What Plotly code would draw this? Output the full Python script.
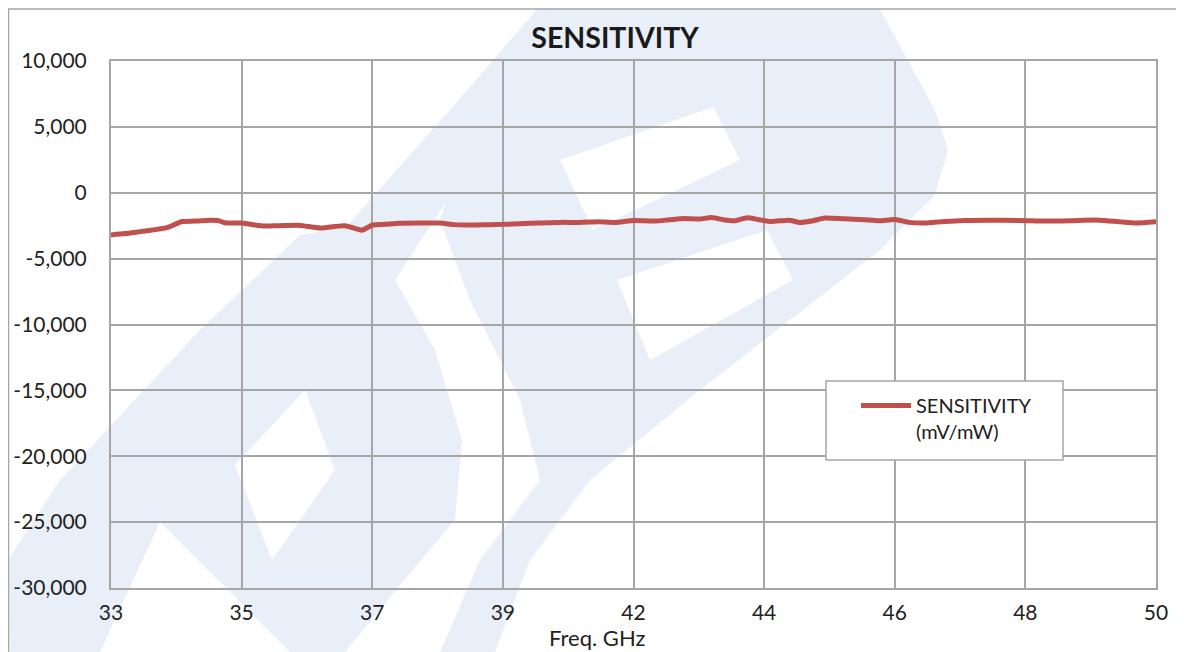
import plotly.graph_objects as go

# ---- data ----
tick_labels = ["33", "35", "37", "39", "42", "44", "46", "48", "50"]
tick_pos = [0, 1, 2, 3, 4, 5, 6, 7, 8]

freq_pos = [0.000, 0.107, 0.222, 0.337, 0.428, 0.489, 0.543, 0.642, 0.757, 0.818,
            0.872, 1.002, 1.101, 1.178, 1.293, 1.446, 1.537, 1.614, 1.713, 1.790,
            1.866, 1.920, 2.004, 2.096, 2.210, 2.363, 2.516, 2.631, 2.746, 2.899,
            3.013, 3.128, 3.281, 3.434, 3.587, 3.740, 3.855, 4.008, 4.161, 4.275,
            4.390, 4.505, 4.597, 4.688, 4.772, 4.872, 4.964, 5.055, 5.193, 5.270,
            5.384, 5.461, 5.614, 5.767, 5.881, 6.004, 6.111, 6.226, 6.379, 6.532,
            6.723, 6.952, 7.182, 7.411, 7.564, 7.717, 7.847, 8.000]
sensitivity = [-3200, -3100, -2950, -2800, -2650, -2400, -2180, -2150, -2080, -2100,
               -2280, -2300, -2450, -2530, -2500, -2480, -2600, -2680, -2560, -2510,
               -2700, -2840, -2450, -2400, -2320, -2300, -2300, -2420, -2450, -2420,
               -2400, -2350, -2300, -2250, -2250, -2200, -2250, -2100, -2150, -2050,
               -1950, -2000, -1880, -2050, -2130, -1900, -2050, -2180, -2080, -2250,
               -2100, -1920, -1980, -2050, -2120, -2030, -2250, -2300, -2180, -2100,
               -2080, -2100, -2150, -2100, -2080, -2200, -2300, -2200]

y_tick_vals = [10000, 5000, 0, -5000, -10000, -15000, -20000, -25000, -30000]
y_tick_text = ["10,000", "5,000", "0", "-5,000", "-10,000", "-15,000", "-20,000", "-25,000", "-30,000"]

series_name = "SENSITIVITY<br>(mV/mW)"
x_title = "Freq. GHz"
chart_title = "SENSITIVITY"

# ---- layout geometry (reference pixels; page body has an 8px margin) ----
OFF = 8
W, H = 1184 - OFF, 652 - OFF
P_L, P_T, P_R, P_B = 111, 61, 1156, 588          # plot area in reference pixels
ML, MT = P_L - OFF, P_T - OFF
MR, MB = W - (P_R - OFF), H - (P_B - OFF)
PW, PH = P_R - P_L, P_B - P_T

LINE_COLOR = "#c0504d"


def px(x, y):
    """reference pixel -> paper coords"""
    return (x - P_L) / PW, (P_B - y) / PH


def poly(points):
    pts = [px(x, y) for x, y in points]
    return "M " + " L ".join(f"{a:.4f},{b:.4f}" for a, b in pts) + " Z"


WM = "#e8eff8"
watermark = [
    # left "D"
    ([(10, 652), (8, 560), (60, 480), (200, 330), (300, 235), (345, 228), (395, 280),
      (435, 350), (462, 440), (455, 520), (400, 585), (345, 652)], WM),
    ([(100, 652), (160, 522), (290, 652)], "white"),
    ([(235, 465), (305, 390), (335, 470), (272, 560)], "white"),
    # upper-left diagonal stroke
    ([(345, 228), (450, 110), (545, 0), (600, 0), (480, 150), (395, 280)], WM),
    # right shape
    ([(480, 100), (560, 0), (875, 0), (935, 110), (948, 150), (935, 195), (880, 250),
      (700, 390), (590, 480), (530, 560), (495, 652), (440, 652), (480, 560), (540, 480),
      (520, 400), (470, 300), (440, 220)], WM),
    ([(560, 160), (713, 107), (740, 160), (593, 230)], "white"),
    ([(617, 280), (767, 230), (793, 280), (650, 360)], "white"),
]

fig = go.Figure()

fig.add_trace(go.Scatter(
    x=freq_pos, y=sensitivity, mode="lines",
    name=series_name,
    line=dict(color=LINE_COLOR, width=5, shape="spline", smoothing=0.6),
))

shapes = []
for pts, col in watermark:
    shapes.append(dict(type="path", path=poly(pts), xref="paper", yref="paper",
                       fillcolor=col, line=dict(width=0), layer="below"))
# outer chart border
bx0, by0 = px(OFF + 0.5, 9)
bx1, by1 = px(1182, 700)
shapes.append(dict(type="rect", xref="paper", yref="paper", x0=bx0, y0=by1, x1=bx1, y1=by0,
                   line=dict(color="#a6a6a6", width=1.5), fillcolor="rgba(0,0,0,0)",
                   layer="below"))
# legend box
lx0, ly0 = px(826, 381)
lx1, ly1 = px(1063, 460)
shapes.append(dict(type="rect", xref="paper", yref="paper", x0=lx0, y0=ly1, x1=lx1, y1=ly0,
                   line=dict(color="#a6a6a6", width=1.5), fillcolor="white", layer="above"))
# longer legend line sample (Excel style)
sx0, sy = px(861, 405.5)
sx1, _ = px(884, 405.5)
shapes.append(dict(type="line", xref="paper", yref="paper", x0=sx0, y0=sy, x1=sx1, y1=sy,
                   line=dict(color=LINE_COLOR, width=5), layer="above"))

grid_col = "#a6a6a6"
font_family = "Lato, 'Open Sans', sans-serif"

ax, ay = px(597, 637)

fig.update_layout(
    width=W, height=H,
    margin=dict(l=ML, r=MR, t=MT, b=MB, autoexpand=False),
    paper_bgcolor="white",
    plot_bgcolor="rgba(0,0,0,0)",
    font=dict(family=font_family, size=21, color="#222222"),
    title=dict(text=f"<b>{chart_title}</b>", x=(615 - OFF) / W, xanchor="center",
               y=1 - (38 - OFF) / H, yanchor="middle",
               font=dict(size=28.5, color="#1a1a1a", family=font_family)),
    showlegend=True,
    legend=dict(
        x=px(876, 0)[0], y=px(0, 386)[1], xanchor="left", yanchor="top",
        bgcolor="rgba(0,0,0,0)", borderwidth=0,
        font=dict(size=20, color="#222222", family=font_family),
        valign="top",
    ),
    shapes=shapes,
    annotations=[dict(text=x_title, xref="paper", yref="paper", x=ax, y=ay,
                      xanchor="center", yanchor="middle", showarrow=False,
                      font=dict(size=22, family=font_family, color="#222222"))],
)

fig.update_xaxes(
    range=[0, 8], tickvals=tick_pos, ticktext=tick_labels,
    showgrid=True, gridcolor=grid_col, gridwidth=1.5,
    showline=True, linecolor=grid_col, linewidth=2, mirror=True,
    ticks="", ticklabelstandoff=5, zeroline=False,
    tickfont=dict(size=21),
)
fig.update_yaxes(
    range=[-30000, 10000], tickvals=y_tick_vals, ticktext=y_tick_text,
    showgrid=True, gridcolor=grid_col, gridwidth=1.5,
    showline=True, linecolor=grid_col, linewidth=2, mirror=True,
    ticks="", ticklabelstandoff=18, zeroline=False,
    tickfont=dict(size=21),
)

fig.write_html("out.html")
